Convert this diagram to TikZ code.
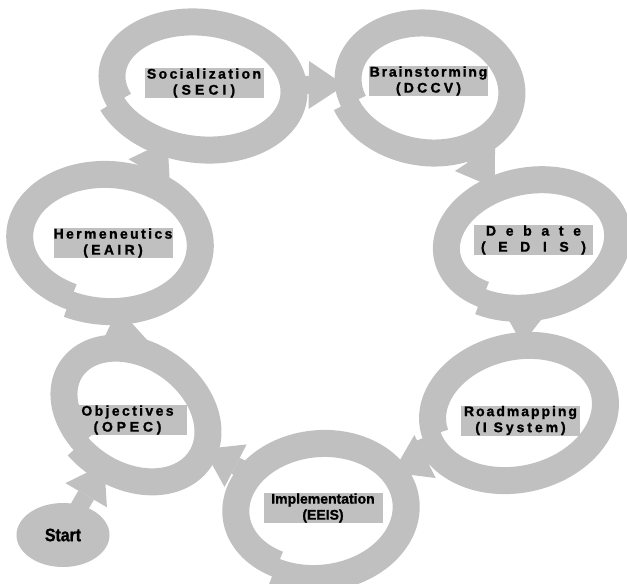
\documentclass[tikz,border=0pt]{standalone}
\usepackage{fontspec}
\setmainfont{Liberation Sans}
\usetikzlibrary{shapes.geometric,arrows.meta}
\definecolor{ringgray}{RGB}{192,192,192}
\newcommand\spaced[2]{{\addfontfeature{LetterSpace=#1}#2}}
\tikzset{
  hub/.style={ellipse,inner sep=0pt,outer sep=0pt},
  ring/.style={draw=ringgray,line width=27pt},
  link/.style={draw=ringgray,line width=18pt,-{Triangle[length=36pt,width=48pt,line width=0pt]},shorten <=-8pt},
  stagebox/.style={fill=ringgray,minimum width=119pt,minimum height=30pt,inner sep=0pt,align=center,font=\bfseries\fontsize{14}{16}\selectfont\addfontfeature{FakeBold=1.2}},
  startnode/.style={ellipse,fill=ringgray,minimum width=93pt,minimum height=64pt,inner sep=0pt,font=\bfseries\fontsize{18}{20}\selectfont\addfontfeature{FakeStretch=0.88,FakeBold=1.2}}
}

\begin{document}
\begin{tikzpicture}[x=1pt,y=-1pt]
	\useasboundingbox (0,0) rectangle (627,584);
	% ring centres
	\node[hub,minimum width=186,minimum height=126,rotate=-8] (soc) at (201,84) {};
	\node[hub,minimum width=168,minimum height=128,rotate=-10] (brain) at (428,86) {};
	\node[hub,minimum width=174,minimum height=124,rotate=10] (deb) at (530,242) {};
	\node[hub,minimum width=178,minimum height=132,rotate=12] (road) at (517,411) {};
	\node[hub,minimum width=172,minimum height=132,rotate=5] (impl) at (319,509) {};
	\node[hub,minimum width=158,minimum height=118,rotate=-35] (obj) at (134,413) {};
	\node[hub,minimum width=182,minimum height=134,rotate=-5] (herm) at (108,241) {};
	\node[startnode] (start) at (63,535) {Start};
	% rings
	\draw[ring,shift={(soc.center)},rotate=-8] plot[domain=208:568,samples=121] ({(97-8*(\x-208)/360)*cos(\x)},{-(67-8*(\x-208)/360)*sin(\x)});
	\draw[ring,shift={(brain.center)},rotate=-10] plot[domain=208:568,samples=121] ({(88-8*(\x-208)/360)*cos(\x)},{-(68-8*(\x-208)/360)*sin(\x)});
	\draw[ring,shift={(deb.center)},rotate=10] plot[domain=229:589,samples=121] ({(91-8*(\x-229)/360)*cos(\x)},{-(66-8*(\x-229)/360)*sin(\x)});
	\draw[ring,shift={(road.center)},rotate=12] plot[domain=185:545,samples=121] ({(93-8*(\x-185)/360)*cos(\x)},{-(70-8*(\x-185)/360)*sin(\x)});
	\draw[ring,shift={(impl.center)},rotate=5] plot[domain=236:596,samples=121] ({(90-8*(\x-236)/360)*cos(\x)},{-(70-8*(\x-236)/360)*sin(\x)});
	\draw[ring,shift={(obj.center)},rotate=-35] plot[domain=251:611,samples=121] ({(83-8*(\x-251)/360)*cos(\x)},{-(63-8*(\x-251)/360)*sin(\x)});
	\draw[ring,shift={(herm.center)},rotate=-5] plot[domain=249:609,samples=121] ({(95-8*(\x-249)/360)*cos(\x)},{-(71-8*(\x-249)/360)*sin(\x)});
	% arrows
	\draw[link] (start) -- (obj);
	\draw[link] (obj) -- (herm);
	\draw[link] (herm) -- (soc);
	\draw[link] (soc) -- (brain);
	\draw[link] (brain) -- (deb);
	\draw[link] (deb) -- (road);
	\draw[link] (road) -- (impl);
	\draw[link] (impl) -- (obj);
	% labels
	\node[stagebox] (socl) at (204,83) {\spaced{17}{Socialization}\\\spaced{29}{(SECI)}};
	\node[stagebox] (brainl) at (428.5,81) {\spaced{13}{Brainstorming}\\\spaced{23}{(DCCV)}};
	\node[stagebox] (debl) at (533.5,240) {\spaced{69}{Debate}\\\spaced{90}{(EDIS)}};
	\node[stagebox] (roadl) at (520.5,420.5) {\spaced{14}{Roadmapping}\\\spaced{21}{(I System)}};
	\node[stagebox] (impll) at (323,508) {Implementation\\(EEIS)};
	\node[stagebox] (objl) at (127.5,420) {\spaced{17}{Objectives}\\\spaced{27}{(OPEC)}};
	\node[stagebox] (herml) at (113,243) {\spaced{17}{Hermeneutics}\\\spaced{24}{(EAIR)}};
\end{tikzpicture}
\end{document}
